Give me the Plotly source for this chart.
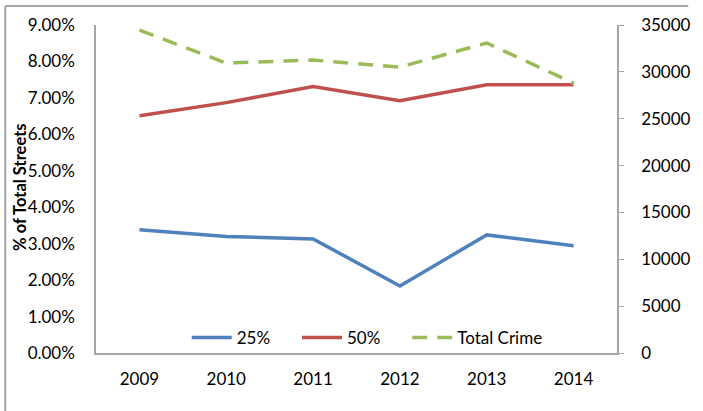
import plotly.graph_objects as go

# Données
years = ["2009", "2010", "2011", "2012", "2013", "2014"]
pct_25 = [0.0338, 0.0320, 0.0313, 0.0184, 0.0324, 0.0294]
pct_50 = [0.0651, 0.0687, 0.0731, 0.0692, 0.0736, 0.0736]
total_crime = [34460, 30940, 31260, 30510, 33080, 28800]

W, H = 703, 411
L, R, T, B = 96, 73, 25, 58
pw, ph = W - L - R, H - T - B

font = dict(family="Lato, 'Open Sans', sans-serif", size=17, color="#000000")

fig = go.Figure()

fig.add_trace(go.Scatter(
    x=years, y=pct_25, name="25%", mode="lines", legend="legend",
    line=dict(color="#4F81BD", width=3.5)
))
fig.add_trace(go.Scatter(
    x=years, y=pct_50, name="50%", mode="lines", legend="legend2",
    line=dict(color="#C0504D", width=3.5)
))
fig.add_trace(go.Scatter(
    x=years, y=total_crime, name="Total Crime", mode="lines", yaxis="y2",
    legend="legend3",
    line=dict(color="#9BBB59", width=3.5, dash="15px,10px")
))

# conversions pixels -> coordonnées "paper"
def px_x(x):
    return (x - L) / pw

def px_y(y):
    return 1 - (y - T) / ph

# cadre (bord gauche et haut seulement)
fig.add_shape(type="line", xref="paper", yref="paper",
              x0=px_x(3), x1=px_x(W), y0=px_y(6), y1=px_y(6),
              line=dict(color="#A6A6A6", width=2))
fig.add_shape(type="line", xref="paper", yref="paper",
              x0=px_x(3), x1=px_x(3), y0=px_y(6), y1=px_y(H),
              line=dict(color="#A6A6A6", width=2))

# titre de l'axe gauche
fig.add_annotation(
    text="<b>% of Total Streets</b>", textangle=-90,
    xref="paper", yref="paper", x=px_x(18), y=px_y(187),
    xanchor="center", yanchor="middle", showarrow=False,
    font=dict(size=16.5)
)

legend_common = dict(
    orientation="h", y=px_y(338), yanchor="middle", xanchor="left",
    bgcolor="rgba(0,0,0,0)", font=dict(size=17), itemwidth=40
)

fig.update_layout(
    width=W, height=H,
    margin=dict(l=L, r=R, t=T, b=B),
    paper_bgcolor="white", plot_bgcolor="white",
    font=font,
    showlegend=True,
    legend=dict(x=px_x(189), **legend_common),
    legend2=dict(x=px_x(302), **legend_common),
    legend3=dict(x=px_x(415), **legend_common),
    xaxis=dict(
        range=[-0.5, 5.5],
        showgrid=False, showline=True, linecolor="#A6A6A6", linewidth=1.5,
        ticks="", ticklabelstandoff=10, zeroline=False
    ),
    yaxis=dict(
        range=[0, 0.09], dtick=0.01, tickformat=".2%",
        showgrid=False, showline=True, linecolor="#A6A6A6", linewidth=1.5,
        ticks="", ticklabelstandoff=16, zeroline=False
    ),
    yaxis2=dict(
        overlaying="y", side="right", range=[0, 35000], dtick=5000,
        tickformat="d",
        showgrid=False, showline=True, linecolor="#A6A6A6", linewidth=1.5,
        ticks="outside", ticklen=5, tickcolor="#A6A6A6",
        ticklabelstandoff=14, zeroline=False
    ),
)

fig.write_html("out.html", config={"displayModeBar": False},
               post_script="document.body.style.margin='0';")
